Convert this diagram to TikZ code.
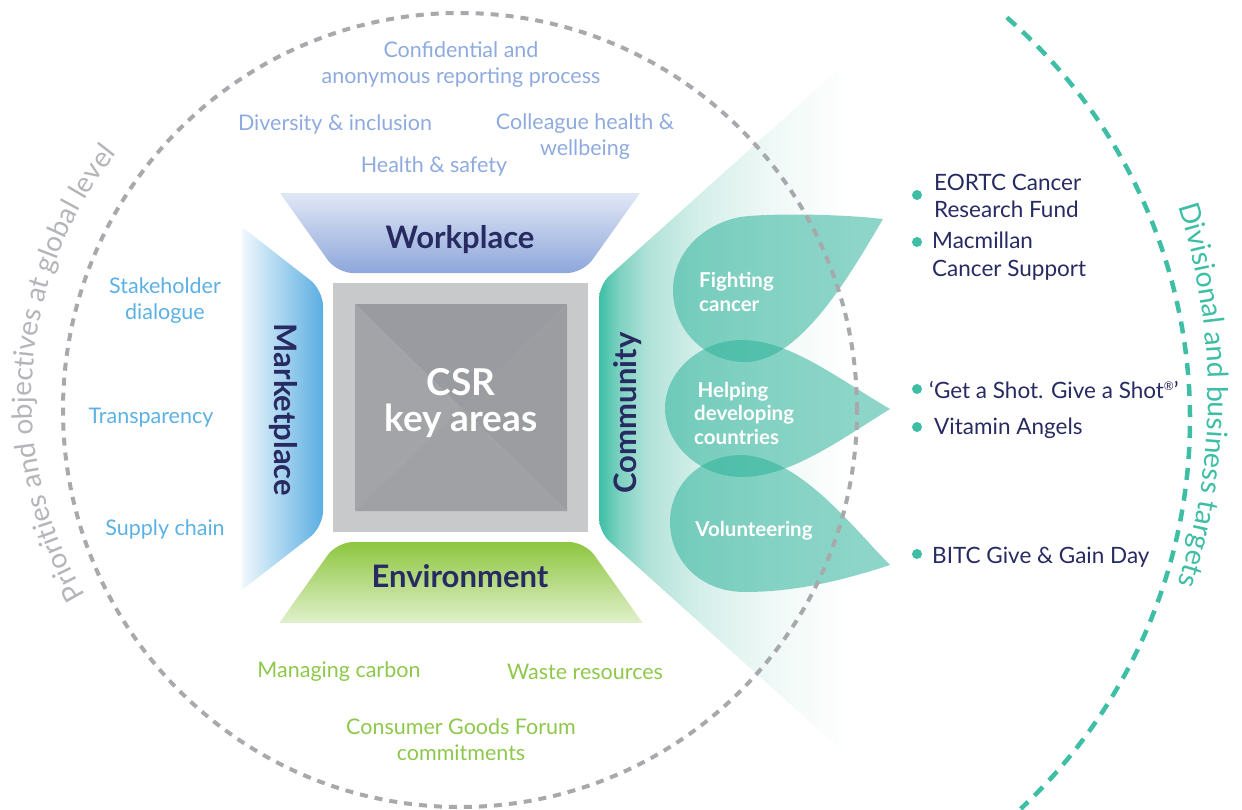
\documentclass[tikz,border=0pt]{standalone}
\usepackage{fontspec}
\setmainfont{Lato}
\usetikzlibrary{decorations.text}
\definecolor{navy}{HTML}{272B62}
\definecolor{wb}{HTML}{8EA7DB}
\definecolor{sb}{HTML}{5AAEE2}
\definecolor{gr}{HTML}{8DC63F}
\definecolor{tealc}{HTML}{3DBEA5}
\definecolor{petalc}{HTML}{2DB39A}
\definecolor{grayd}{HTML}{A7A9AC}
\definecolor{grayl}{HTML}{B3B5B8}
\definecolor{wpc}{HTML}{8EAADF}
\definecolor{mpc}{HTML}{5BB0E4}
\definecolor{evc}{HTML}{8DC84B}
\definecolor{sqlight}{HTML}{C8C9CB}
\definecolor{sqA}{HTML}{9A9BA0}
\definecolor{sqB}{HTML}{A3A4A8}
\definecolor{sqC}{HTML}{9C9DA1}
\definecolor{sqD}{HTML}{A0A1A5}
\definecolor{commA}{HTML}{3BBFA5}
\definecolor{commB}{HTML}{7DD1C1}
\definecolor{commC}{HTML}{B2E3D9}
\definecolor{commD}{HTML}{D5EFEA}
\definecolor{commE}{HTML}{F0F9F7}
\pgfdeclarehorizontalshading{commfan}{100bp}{color(0bp)=(commA); color(25bp)=(commA); color(29bp)=(commB); color(35bp)=(commC); color(45bp)=(commD); color(60bp)=(commE); color(75bp)=(white); color(100bp)=(white)}
\newcommand\fsz[2]{\fontsize{#1}{#2}\selectfont}
\tikzset{
  lbl/.style={inner sep=0pt, align=center},
  wpitem/.style={lbl, text=wpc, font=\fsz{21.5}{26}},
  mpitem/.style={lbl, text=mpc, font=\fsz{21.5}{26}},
  evitem/.style={lbl, text=evc, font=\fsz{21.5}{26}},
  head/.style={lbl, text=navy, font=\fsz{31}{36}\bfseries},
  petaltext/.style={lbl, align=left, text=white, font=\fsz{20.5}{23.5}\bfseries},
  petal/.style={fill=petalc, fill opacity=0.55},
  bullet/.style={circle, fill=tealc, inner sep=0pt, minimum size=10pt},
  btext/.style={inner sep=0pt, anchor=west, align=left, text=navy, font=\fsz{22.5}{27.5}},
}
\begin{document}
\begin{tikzpicture}[x=1pt,y=-1pt]
\useasboundingbox (0,0) rectangle (1242,809);

% community fan
\shade[shading=commfan, rounded corners=14pt] (850,59) -- (599,285) -- (599,532) -- (850,758) -- cycle;

% workplace
\begin{scope}
  \clip (0,193) rectangle (1242,300);
  \shade[top color=white, bottom color=wb, rounded corners=16pt] (258.6,163) -- (661.4,163) -- (583,273) -- (337,273) -- cycle;
\end{scope}
% marketplace
\begin{scope}
  \clip (242,0) rectangle (400,809);
  \shade[left color=white, right color=sb, rounded corners=16pt] (234,220.8) -- (323,290) -- (323,527) -- (234,596.2) -- cycle;
\end{scope}
% environment
\begin{scope}
  \clip (0,500) rectangle (1242,622);
  \shade[top color=gr, bottom color=white, rounded corners=16pt] (337,542) -- (585,542) -- (663.4,652) -- (258.6,652) -- cycle;
\end{scope}

% central square
\fill[sqlight] (333,283) rectangle (588,532);
\fill[sqA] (355,304) -- (567,304) -- (461,407.5) -- cycle;
\fill[sqB] (355,304) -- (355,511) -- (461,407.5) -- cycle;
\fill[sqC] (567,304) -- (567,511) -- (461,407.5) -- cycle;
\fill[sqD] (355,511) -- (567,511) -- (461,407.5) -- cycle;

% petals
\fill[petal] (883,219) .. controls (840,214) and (770,213) .. (740,217)
  .. controls (700,225) and (673,255) .. (673,290)
  .. controls (673,330) and (705,362) .. (745,362)
  .. controls (800,362) and (850,275) .. (883,219) -- cycle;
\fill[petal] (890,409) .. controls (840,380) and (790,340) .. (742,340)
  .. controls (700,340) and (665,372) .. (665,408)
  .. controls (665,445) and (700,477) .. (742,477)
  .. controls (790,477) and (840,440) .. (890,409) -- cycle;
\fill[petal] (890,565) .. controls (855,530) and (800,457) .. (742,455)
  .. controls (700,455) and (670,485) .. (670,522)
  .. controls (670,560) and (700,592) .. (745,592)
  .. controls (800,592) and (850,578) .. (890,565) -- cycle;

% dashed circles
\draw[grayd, line width=4pt, dash pattern=on 8pt off 7pt] (460,410) circle[radius=397pt];
\draw[tealc, line width=4.5pt, dash pattern=on 12pt off 9pt] (657.5,419.4) ++(49:532.5pt) arc[start angle=49, end angle=-47, radius=532.5pt];

% arc labels
\path[decorate, decoration={text along path, text align=center, text color=grayl,
  text={|\fsz{28}{32}|Priorities and objectives at global level}}]
  (423,397) ++(221:391pt) arc[start angle=221, end angle=131, radius=391pt];
\path[decorate, decoration={text along path, text align=center, text color=tealc,
  text={|\fsz{28.5}{32}|Divisional and business targets}}]
  (596,395) ++(30:612pt) arc[start angle=30, end angle=-30, radius=612pt];

% headings
\node[head] (work) at (460,240) {Workplace};
\node[head] (env) at (460,576) {Environment};
\node[head, rotate=-90] (market) at (283,410) {Marketplace};
\node[head, rotate=90] (comm) at (628,413) {Community};
\node[lbl, text=white, font=\fsz{37}{36}\bfseries] (csr) at (461,403) {CSR\\key areas};

% workplace items
\node[wpitem] (conf) at (461,65) {Confidential and\\anonymous reporting process};
\node[wpitem] (div) at (335,124) {Diversity \& inclusion};
\node[wpitem] (coll) at (585,137) {Colleague health \&\\wellbeing};
\node[wpitem] (hs) at (434,166) {Health \& safety};

% marketplace items
\node[mpitem] (stake) at (165,301) {Stakeholder\\dialogue};
\node[mpitem] (transp) at (151,418) {Transparency};
\node[mpitem] (supply) at (165,529) {Supply chain};

% environment items
\node[evitem] (carbon) at (339,672) {Managing carbon};
\node[evitem] (waste) at (585,672) {Waste resources};
\node[evitem] (cgf) at (461,740) {Consumer Goods Forum\\commitments};

% petal texts
\node[petaltext, anchor=west] (fight) at (699,292) {Fighting\\cancer};
\node[petaltext, anchor=west] (help) at (694,413) {\,Helping\\developing\\countries};
\node[petaltext] (vol) at (754,531) {Volunteering};

% bullets
\node[bullet] (b1) at (917,195) {};
\node[btext] (t1) at (934,196) {EORTC Cancer\\Research Fund};
\node[bullet] (b2) at (917,242) {};
\node[btext] (t2) at (932,256) {Macmillan\\Cancer Support};
\node[bullet] (b3) at (917,389) {};
\node[btext] (t3) at (929,390) {‘Get a Shot. Give a Shot\raisebox{0.7ex}{\fsz{12}{12}®}’};
\node[bullet] (b4) at (917,427) {};
\node[btext] (t4) at (934,428) {Vitamin Angels};
\node[bullet] (b5) at (917,554) {};
\node[btext] (t5) at (932,557) {BITC Give \& Gain Day};
\end{tikzpicture}
\end{document}
